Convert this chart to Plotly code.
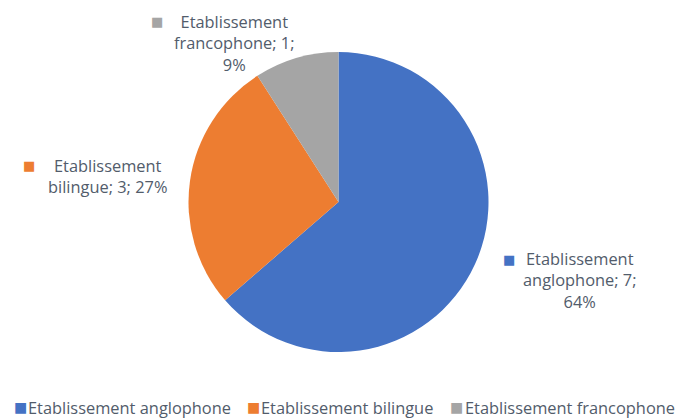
import plotly.graph_objects as go

categories = ["Etablissement anglophone", "Etablissement bilingue", "Etablissement francophone"]
values = [7, 3, 1]
colors = ["#4472C4", "#ED7D31", "#A5A5A5"]

total = sum(values)
pcts = [round(v / total * 100) for v in values]

FONT = "Open Sans"
FS = 16.4
TXT = "#525C6B"
W, H = 675, 419
CX, CY, R = 338.5, 202, 150
LINE_H = 1.3 * FS

fig = go.Figure(go.Pie(
    labels=categories,
    values=values,
    marker=dict(colors=colors, line=dict(color="white", width=0)),
    sort=False,
    direction="clockwise",
    rotation=0,
    textinfo="none",
    hoverinfo="label+value+percent",
    showlegend=False,
    domain=dict(x=[(CX - R) / W, (CX + R) / W],
                y=[1 - (CY + R) / H, 1 - (CY - R) / H]),
))

label_specs = [
    dict(cx=580, y=259, sqx=509),
    dict(cx=107, y=165, sqx=29),
    dict(cx=234, y=22, sqx=157),
]

anns = []
for i, (name, v, p, col) in enumerate(zip(categories, values, pcts, colors)):
    first, rest = name.split(" ", 1)
    if i == 1:
        lines = [first, f"{rest}; {v}; {p}%"]
    else:
        lines = [first, f"{rest}; {v};", f"{p}%"]
    s = label_specs[i]
    mid_y = s["y"] + (len(lines) - 1) * LINE_H / 2
    anns.append(dict(
        text="<br>".join(lines), x=s["cx"] / W, y=1 - mid_y / H,
        xref="paper", yref="paper", xanchor="center", yanchor="middle",
        align="center", showarrow=False,
        font=dict(family=FONT, size=FS, color=TXT),
    ))
    anns.append(dict(
        text="■", x=s["sqx"] / W, y=1 - s["y"] / H,
        xref="paper", yref="paper", xanchor="center", yanchor="middle",
        showarrow=False, font=dict(family="DejaVu Sans", size=13, color=col),
    ))

# bottom legend (Office style, compact keys)
leg_sq_x = [20, 253, 457]
leg_y = 407
for name, col, sx in zip(categories, colors, leg_sq_x):
    anns.append(dict(
        text="■", x=sx / W, y=1 - leg_y / H,
        xref="paper", yref="paper", xanchor="center", yanchor="middle",
        showarrow=False, font=dict(family="DejaVu Sans", size=14, color=col),
    ))
    anns.append(dict(
        text=name, x=(sx + 6) / W, y=1 - leg_y / H,
        xref="paper", yref="paper", xanchor="left", yanchor="middle",
        showarrow=False, font=dict(family=FONT, size=FS, color=TXT),
    ))

fig.update_layout(
    width=W, height=H,
    margin=dict(l=0, r=0, t=0, b=0, autoexpand=False),
    paper_bgcolor="white",
    plot_bgcolor="white",
    font=dict(family=FONT, size=FS, color=TXT),
    annotations=anns,
    showlegend=False,
)

fig.write_html("out.html", config={"displayModeBar": False},
               post_script="document.body.style.margin='0px';document.body.style.overflow='hidden';")
